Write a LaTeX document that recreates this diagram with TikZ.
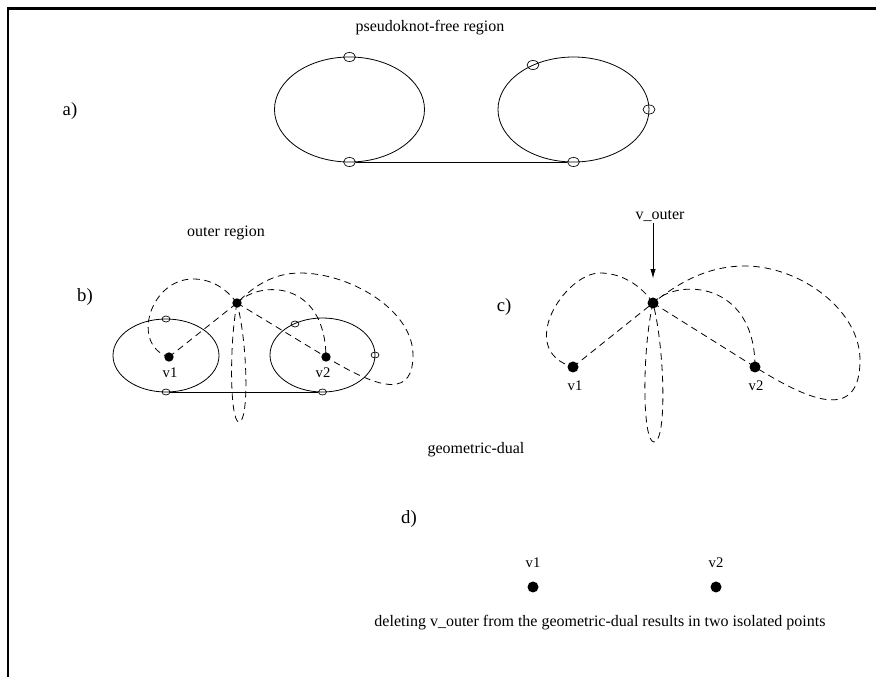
\documentclass[tikz,border=0pt]{standalone}
\usepackage{fontspec}
\setmainfont{Liberation Serif}
\usetikzlibrary{shapes.geometric,arrows.meta}

\tikzset{
  knot/.style={draw,ellipse,inner sep=0pt,minimum width=9pt,minimum height=6.75pt,line width=0.5pt},
  knotsm/.style={knot,minimum width=6pt,minimum height=4.5pt},
  vdot/.style={circle,fill=black,inner sep=0pt,minimum size=#1},
  dual/.style={dash pattern=on 5pt off 3.5pt,line width=0.6pt},
  txt/.style={inner sep=0.75pt,font=\fontsize{12}{14}\selectfont},
  panel/.style={inner sep=0.75pt,font=\fontsize{14}{17}\selectfont},
  vlab/.style={inner sep=0.75pt,font=\fontsize{11}{13}\selectfont},
}

\begin{document}
\begin{tikzpicture}[x=0.75pt,y=0.75pt,yscale=-1,xscale=1,line width=0.6pt]
\useasboundingbox (0,0) rectangle (876,677);

%frame
\draw [line width=1.8pt] (8,677) -- (8,8.5) -- (876,8.5) ;

%a) pseudoknot-free region
\draw (349.5,109.5) ellipse [x radius=75, y radius=52.5] ;
\draw (573.5,109.5) ellipse [x radius=75.5, y radius=52.5] ;
\node [knot] (ka1) at (349.5,57) {} ;
\node [knot] (ka2) at (349.5,162) {} ;
\node [knot] (ka3) at (533,65) {} ;
\node [knot] (ka4) at (649,109.5) {} ;
\node [knot] (ka5) at (573.5,162) {} ;
\draw (ka2) -- (ka5) ;

% Text Node
\node [txt] (tfree) at (430,28) {pseudoknot-free region} ;
% Text Node
\node [panel] (pa) at (70,111) {a)} ;

%b) outer region
\draw (166,355.5) ellipse [x radius=53, y radius=36.5] ;
\draw (322.5,355) ellipse [x radius=52.5, y radius=37] ;
\node [knotsm] (kb1) at (166,319) {} ;
\node [knotsm] (kb2) at (166,392) {} ;
\node [knotsm] (kb3) at (295,324) {} ;
\node [knotsm] (kb4) at (375,355) {} ;
\node [knotsm] (kb5) at (322.5,392) {} ;
\draw (kb2) -- (kb5) ;

\node [vdot=7pt] (ob) at (237,303) {} ;
\node [vdot=7pt] (v1b) at (169,357) {} ;
\node [vdot=7pt] (v2b) at (326,357) {} ;

\draw [dual] (v1b.center) -- (ob.center) ;
\draw [dual] (ob.center) .. controls (225,287) and (210,279) .. (193,279) .. controls (150,279) and (130,345) .. (v1b.center) ;
\draw [dual] (ob.center) .. controls (229,345) and (230,422) .. (239,422) .. controls (249,422) and (248,345) .. (ob.center) ;
\draw [dual] (ob.center) .. controls (260,280) and (325,280) .. (v2b.center) ;
\draw [dual] (ob.center) -- (v2b.center) .. controls (385,393) and (413,395) .. (413,355) .. controls (413,310) and (350,273) .. (300,273) .. controls (270,273) and (250,290) .. (ob.center) ;

% Text Node
\node [txt] (touter) at (226,233) {outer region} ;
% Text Node
\node [panel] (pb) at (85,297) {b)} ;
\node [vlab] (lv1b) at (170,373) {v1} ;
\node [vlab] (lv2b) at (323,373) {v2} ;

%c) geometric-dual
\node [vdot=8.25pt] (oc) at (653,303) {} ;
\node [vdot=8.25pt] (v1c) at (573,367) {} ;
\node [vdot=8.25pt] (v2c) at (755,367) {} ;

\draw [dual] (v1c.center) -- (oc.center) ;
\draw [dual] (oc.center) .. controls (641,285) and (621,273) .. (600,273) .. controls (565,273) and (515,350) .. (v1c.center) ;
\draw [dual] (oc.center) .. controls (642,350) and (642,442) .. (654,442) .. controls (667,442) and (665,350) .. (oc.center) ;
\draw [dual] (oc.center) .. controls (676,278) and (755,280) .. (v2c.center) ;
\draw [dual] (oc.center) -- (v2c.center) .. controls (805,398) and (860,425) .. (860,360) .. controls (860,310) and (800,266) .. (745,266) .. controls (705,266) and (676,285) .. (oc.center) ;

% Text Node
\node [txt] (tvout) at (660,216) {v\_outer} ;
\draw [-{Latex[length=7pt,width=4pt]}, shorten >=14pt] (tvout.south -| oc) -- (oc) ;
% Text Node
\node [panel] (pc) at (504,307) {c)} ;
\node [vlab] (lv1c) at (575,386) {v1} ;
\node [vlab] (lv2c) at (756,386) {v2} ;
% Text Node
\node [txt] (tdual) at (476,450) {geometric-dual} ;

%d) after deleting v_outer
\node [panel] (pd) at (409,519) {d)} ;
\node [vdot=8.25pt] (v1d) at (533,587) {} ;
\node [vdot=8.25pt] (v2d) at (716,587) {} ;
\node [vlab] (lv1d) at (533,563) {v1} ;
\node [vlab] (lv2d) at (716,563) {v2} ;
% Text Node
\node [txt] (tdel) at (600,623) {deleting v\_outer from the geometric-dual results in two isolated points} ;

\end{tikzpicture}
\end{document}
